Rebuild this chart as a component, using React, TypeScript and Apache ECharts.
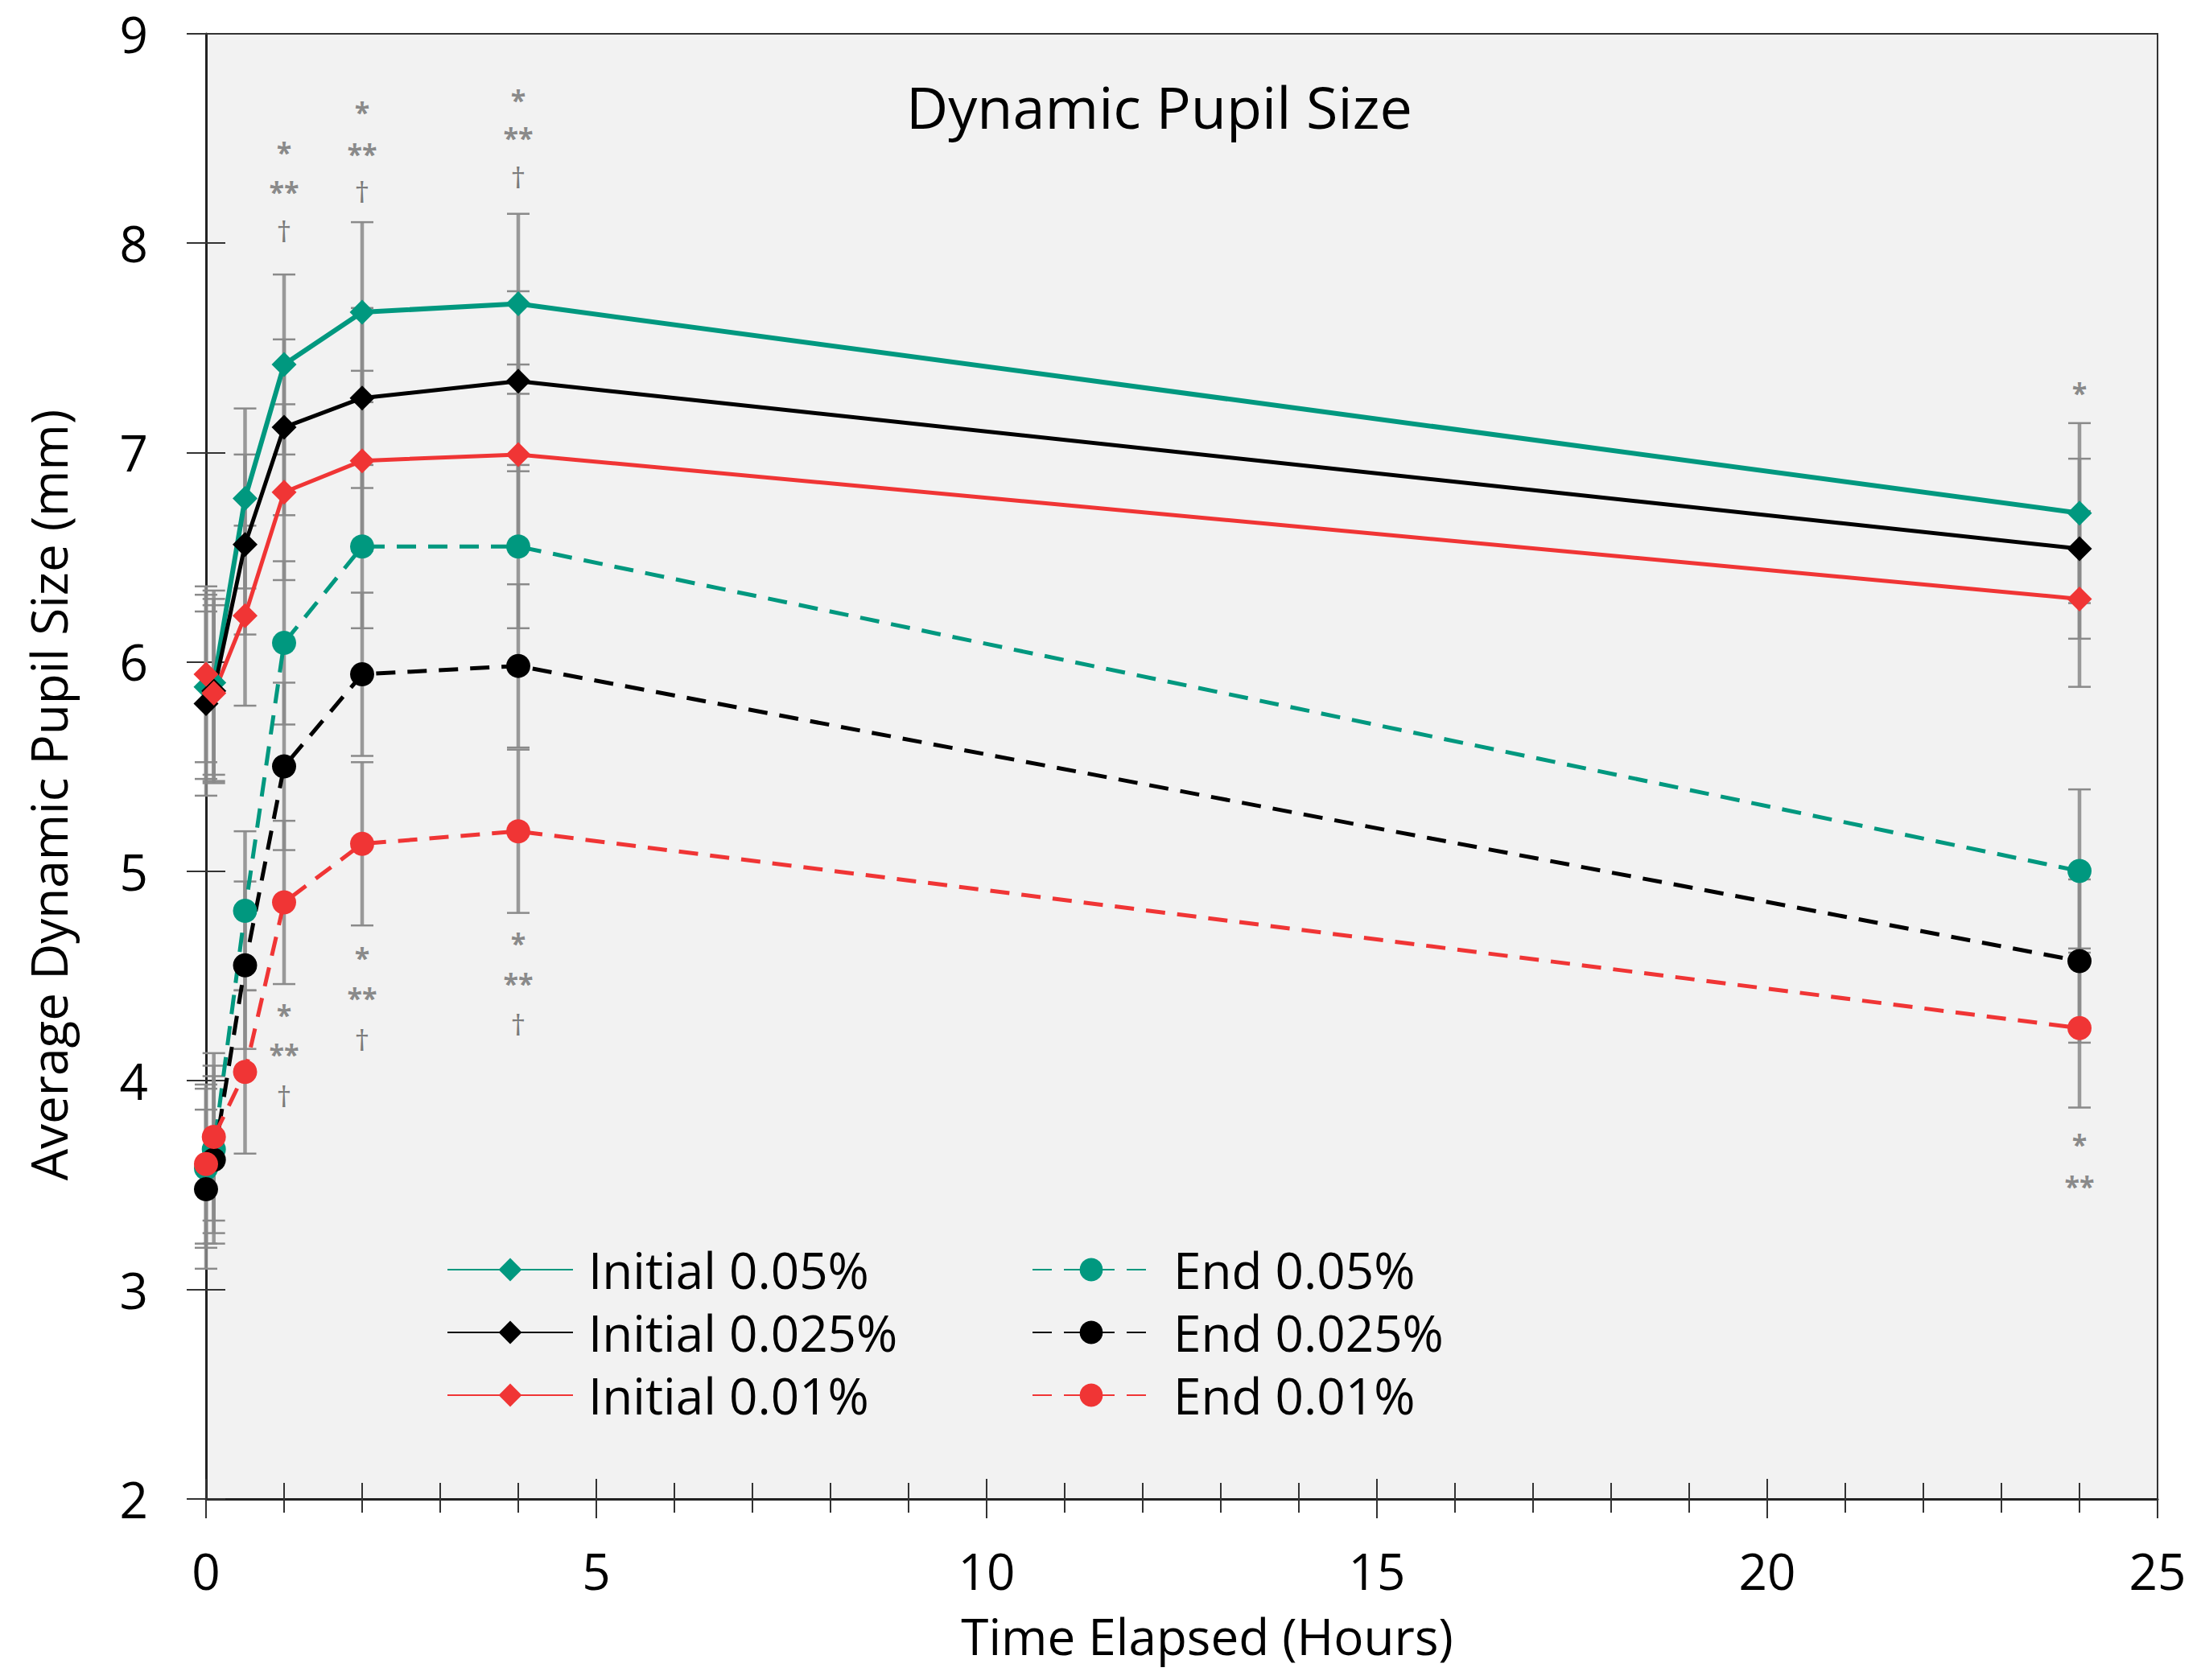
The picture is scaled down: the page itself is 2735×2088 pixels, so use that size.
import React, { useEffect, useRef } from "react";
import * as echarts from "echarts";

// ---- data ----
const TIMES = [0, 0.1, 0.5, 1, 2, 4, 24];
const SERIES_NAMES = [
  "Initial 0.05%",
  "Initial 0.025%",
  "Initial 0.01%",
  "End 0.05%",
  "End 0.025%",
  "End 0.01%",
];
const initial005 = [5.88, 5.9, 6.78, 7.42, 7.67, 7.71, 6.71];
const initial0025 = [5.8, 5.86, 6.56, 7.12, 7.26, 7.34, 6.54];
const initial001 = [5.94, 5.85, 6.22, 6.81, 6.96, 6.99, 6.3];
const end005 = [3.58, 3.67, 4.81, 6.09, 6.55, 6.55, 5.0];
const end0025 = [3.48, 3.62, 4.55, 5.5, 5.94, 5.98, 4.57];
const end001 = [3.6, 3.73, 4.04, 4.85, 5.13, 5.19, 4.25];

const sdInitial005 = [0.44, 0.44, 0.43, 0.43, 0.43, 0.43, 0.43];
const sdInitial0025 = [0.44, 0.44, 0.43, 0.42, 0.43, 0.43, 0.43];
const sdInitial001 = [0.42, 0.42, 0.43, 0.42, 0.43, 0.43, 0.42];
const sdEnd005 = [0.38, 0.4, 0.38, 0.39, 0.39, 0.39, 0.39];
const sdEnd0025 = [0.38, 0.4, 0.4, 0.4, 0.39, 0.39, 0.39];
const sdEnd001 = [0.38, 0.4, 0.39, 0.39, 0.39, 0.39, 0.38];

// significance marks
const ANN_X = [1, 1, 1, 1, 1, 1, 2, 2, 2, 2, 2, 2, 4, 4, 4, 4, 4, 4, 24, 24, 24];
const ANN_Y = [
  8.47, 8.28, 8.07, 4.35, 4.16, 3.94,
  8.66, 8.46, 8.26, 4.62, 4.43, 4.21,
  8.72, 8.54, 8.33, 4.69, 4.5, 4.28,
  7.32, 3.73, 3.53,
];
const ANN_TEXT = [
  "*", "**", "†", "*", "**", "†",
  "*", "**", "†", "*", "**", "†",
  "*", "**", "†", "*", "**", "†",
  "*", "*", "**",
];

const X_MIN = 0;
const X_MAX = 25;
const X_INTERVAL = 5;
const Y_MIN = 2;
const Y_MAX = 9;
const Y_INTERVAL = 1;

const TEAL = "#00987f";
const BLACK = "#000000";
const RED = "#f03535";
const FONT = "Open Sans";

export default function App() {
  const ref = useRef<HTMLDivElement>(null);

  useEffect(() => {
    document.body.style.margin = "0";
    if (!ref.current) return;
    const chart = echarts.init(ref.current, undefined, { renderer: "svg" });

    const values = [initial005, initial0025, initial001, end005, end0025, end001];
    const sds = [sdInitial005, sdInitial0025, sdInitial001, sdEnd005, sdEnd0025, sdEnd001];
    const colors = [TEAL, BLACK, RED, TEAL, BLACK, RED];

    const errData: number[][] = [];
    values.forEach((vals, si) => {
      vals.forEach((v, i) => {
        errData.push([TIMES[i], v - sds[si][i], v + sds[si][i]]);
      });
    });

    const lineSeries = values.map((vals, si) => {
      const isEnd = si >= 3;
      return {
        name: SERIES_NAMES[si],
        type: "line",
        xAxisIndex: 0,
        yAxisIndex: 0,
        data: vals.map((v, i) => [TIMES[i], v]),
        symbol: isEnd ? "circle" : "diamond",
        symbolSize: isEnd ? 30 : 31,
        showSymbol: true,
        itemStyle: { color: colors[si] },
        lineStyle: {
          color: colors[si],
          width: isEnd ? 5 : si === 0 ? 6 : 5,
          type: isEnd ? [24, 15] : "solid",
        },
        z: 3,
        silent: true,
      };
    });

    const annData = ANN_X.map((x, i) => ({
      value: [x, ANN_Y[i]],
      name: ANN_TEXT[i],
      label:
        ANN_TEXT[i] === "†"
          ? { offset: [0, 3], color: "#5a5a5a", fontSize: 37, fontWeight: "normal" }
          : { offset: [0, 9] },
    }));

    const option = {
      animation: false,
      backgroundColor: "#ffffff",
      title: {
        text: "Dynamic Pupil Size",
        left: 1126,
        top: 96,
        padding: 0,
        textStyle: {
          fontFamily: FONT,
          fontSize: 72,
          fontWeight: "normal",
          color: "#000",
        },
      },
      grid: {
        left: 256,
        right: 54,
        top: 42,
        bottom: 225,
        show: true,
        backgroundColor: "#f2f2f2",
        borderColor: "#333",
        borderWidth: 2,
        containLabel: false,
      },
      legend: [
        {
          data: SERIES_NAMES.slice(0, 3),
          orient: "vertical",
          left: 555,
          top: 1547,
          itemWidth: 156,
          itemHeight: 36,
          itemGap: 16,
          padding: 0,
          textStyle: {
            fontFamily: FONT,
            fontSize: 62,
            color: "#000",
            padding: [0, 0, 0, 14],
          },
        },
        {
          data: SERIES_NAMES.slice(3, 6),
          orient: "vertical",
          left: 1282,
          top: 1547,
          itemWidth: 146,
          itemHeight: 36,
          itemGap: 16,
          padding: 0,
          textStyle: {
            fontFamily: FONT,
            fontSize: 62,
            color: "#000",
            padding: [0, 0, 0, 24],
          },
        },
      ],
      xAxis: [
        {
          type: "value",
          min: X_MIN,
          max: X_MAX,
          interval: X_INTERVAL,
          position: "bottom",
          axisLine: { show: true, onZero: false, lineStyle: { color: "#222", width: 3 } },
          axisTick: { show: true, length: 24, lineStyle: { color: "#333", width: 2 } },
          minorTick: { show: true, splitNumber: 5, length: 17, lineStyle: { color: "#333", width: 2 } },
          splitLine: { show: false },
          axisLabel: {
            fontFamily: FONT,
            fontSize: 62,
            color: "#000",
            margin: 58,
          },
        },
        {
          type: "value",
          min: X_MIN,
          max: X_MAX,
          interval: X_INTERVAL,
          position: "bottom",
          offset: 0,
          axisLine: { show: false, onZero: false },
          axisTick: { show: true, inside: true, length: 25, lineStyle: { color: "#333", width: 2 } },
          minorTick: { show: true, splitNumber: 5, length: 20, lineStyle: { color: "#333", width: 2 } },
          splitLine: { show: false },
          axisLabel: { show: false },
        },
      ],
      yAxis: [
        {
          type: "value",
          min: Y_MIN,
          max: Y_MAX,
          interval: Y_INTERVAL,
          position: "left",
          axisLine: { show: true, onZero: false, lineStyle: { color: "#222", width: 3 } },
          axisTick: { show: true, length: 24, lineStyle: { color: "#333", width: 2 } },
          splitLine: { show: false },
          axisLabel: {
            fontFamily: FONT,
            fontSize: 62,
            color: "#000",
            margin: 72,
          },
        },
        {
          type: "value",
          min: Y_MIN,
          max: Y_MAX,
          interval: Y_INTERVAL,
          position: "left",
          offset: 0,
          axisLine: { show: false, onZero: false },
          axisTick: { show: true, inside: true, length: 24, lineStyle: { color: "#333", width: 2 } },
          splitLine: { show: false },
          axisLabel: { show: false },
        },
      ],
      graphic: [
        {
          type: "text",
          x: 1500,
          y: 2033,
          style: {
            text: "Time Elapsed (Hours)",
            fontFamily: FONT,
            fontSize: 62,
            fill: "#000",
            align: "center",
            verticalAlign: "middle",
          },
        },
        {
          type: "text",
          x: 60,
          y: 988,
          rotation: Math.PI / 2,
          style: {
            text: "Average Dynamic Pupil Size (mm)",
            fontFamily: FONT,
            fontSize: 62,
            fill: "#000",
            align: "center",
            verticalAlign: "middle",
          },
        },
      ],
      series: [
        {
          type: "custom",
          xAxisIndex: 0,
          yAxisIndex: 0,
          silent: true,
          z: 1,
          encode: { x: 0, y: [1, 2] },
          data: errData,
          renderItem: (params: any, api: any) => {
            const x = api.value(0);
            const lo = api.value(1);
            const hi = api.value(2);
            const pHi = api.coord([x, hi]);
            const pLo = api.coord([x, lo]);
            const hw = 14;
            const capStyle = { stroke: "#8a8a8a", lineWidth: 2.5 };
            return {
              type: "group",
              children: [
                {
                  type: "line",
                  shape: { x1: pHi[0], y1: pHi[1], x2: pLo[0], y2: pLo[1] },
                  style: { stroke: "#8a8a8a", lineWidth: 4.5, opacity: 0.85 },
                },
                {
                  type: "line",
                  shape: { x1: pHi[0] - hw, y1: pHi[1], x2: pHi[0] + hw, y2: pHi[1] },
                  style: capStyle,
                },
                {
                  type: "line",
                  shape: { x1: pLo[0] - hw, y1: pLo[1], x2: pLo[0] + hw, y2: pLo[1] },
                  style: capStyle,
                },
              ],
            };
          },
        },
        ...lineSeries,
        {
          type: "scatter",
          xAxisIndex: 0,
          yAxisIndex: 0,
          silent: true,
          symbolSize: 1,
          itemStyle: { color: "rgba(0,0,0,0)" },
          z: 4,
          data: annData,
          label: {
            show: true,
            position: "inside",
            formatter: "{b}",
            fontFamily: FONT,
            fontSize: 34,
            fontWeight: "bold",
            color: "#6e6e6e",
          },
        },
      ],
    };

    chart.setOption(option as any);
    return () => {
      chart.dispose();
    };
  }, []);

  return <div ref={ref} style={{ width: 2735, height: 2088 }} />;
}
